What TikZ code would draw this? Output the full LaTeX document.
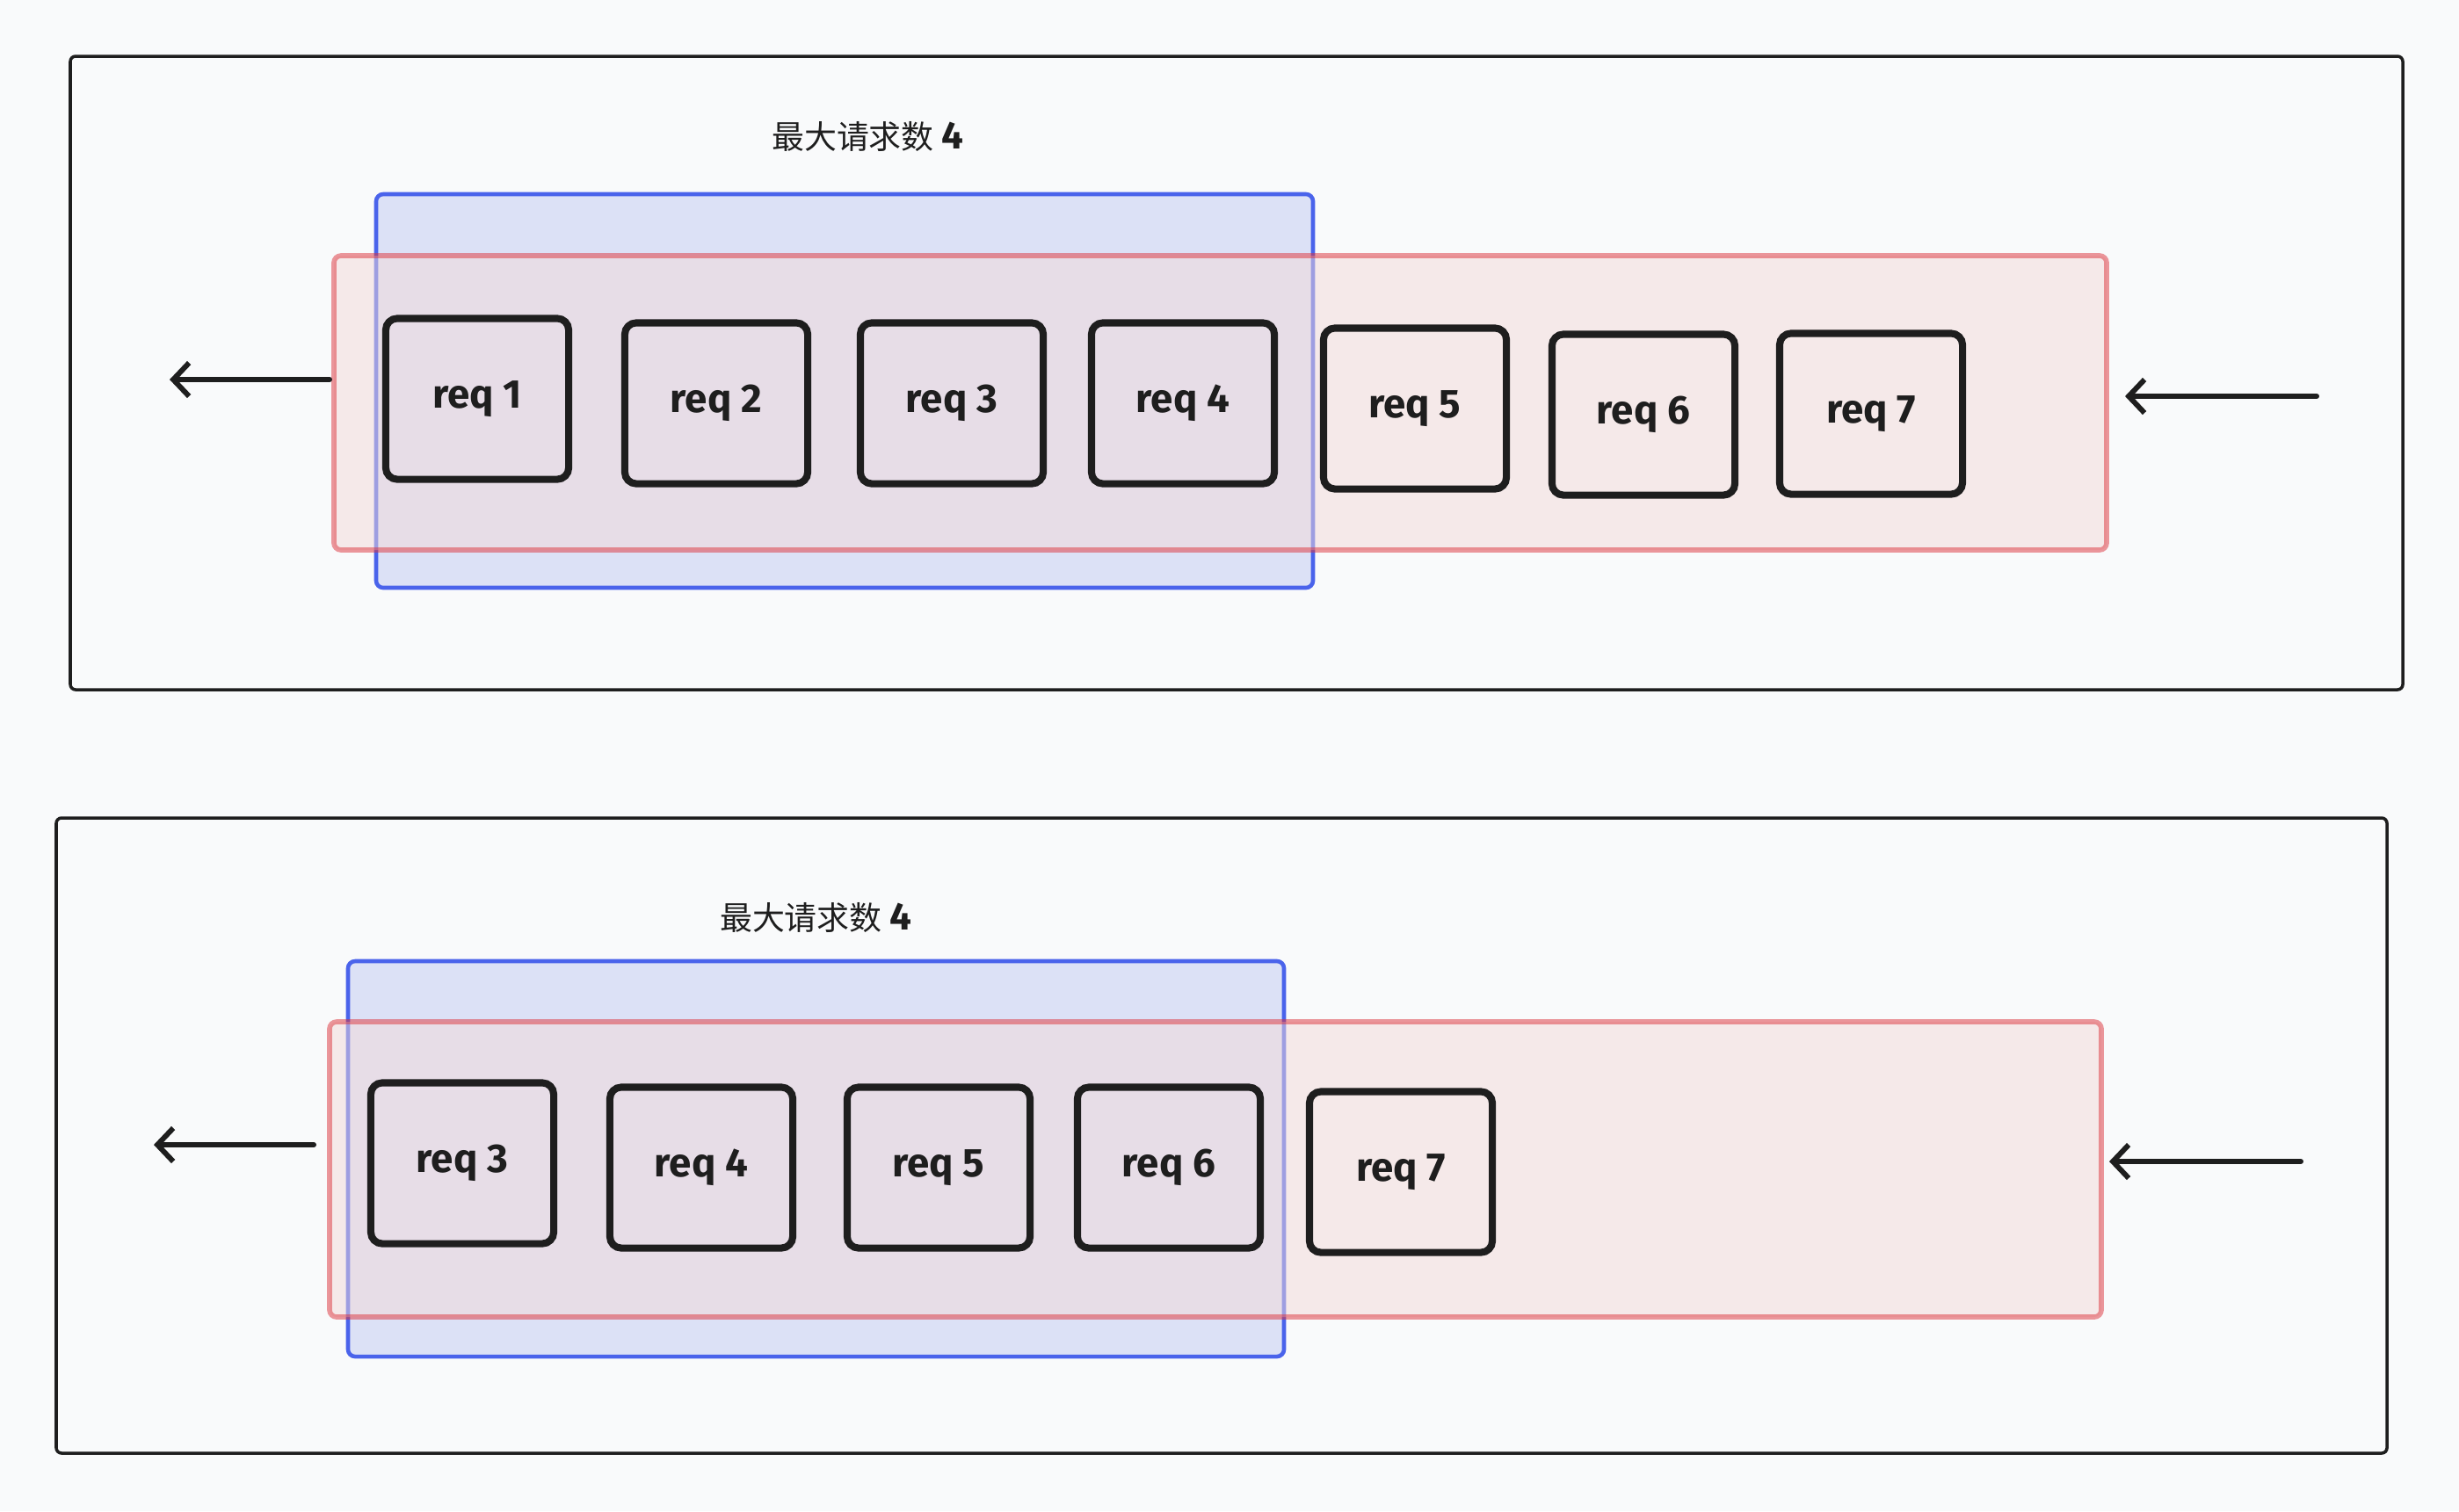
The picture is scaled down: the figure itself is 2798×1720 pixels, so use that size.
\documentclass[tikz,border=0pt]{standalone}
\usepackage{fontspec}
\setmainfont{Fira Sans}
\newfontfamily\cjkfont{Noto Sans CJK SC}
\usetikzlibrary{arrows.meta}
\definecolor{pagebg}{HTML}{F9FAFB}
\definecolor{ink}{HTML}{1E1E1E}
\definecolor{winblue}{HTML}{4A63EB}
\definecolor{winbluefill}{HTML}{DCE1F6}
\definecolor{qred}{HTML}{DD323B}
\definecolor{qredfill}{HTML}{F3DAD9}
\def\maxtext{最大请求数 {\rmfamily\bfseries\fontsize{12.5}{12}\selectfont 4}}
\tikzset{
  reqbox/.style={draw=ink, line width=2.3pt, rounded corners=0.13cm,
    minimum width=2.08cm, minimum height=1.83cm, text=ink,
    font=\fontsize{13}{15}\selectfont\bfseries},
  window/.style={draw=winblue, fill=winbluefill, line width=1.3pt, rounded corners=0.08cm},
  queue/.style={draw=qred, fill=qredfill, opacity=0.5, line width=1.6pt, rounded corners=0.08cm},
  panel/.style={draw=ink, line width=1pt, rounded corners=0.06cm},
  maxlabel/.style={text=ink, font=\cjkfont\fontsize{10.5}{12}\selectfont},
  flow/.style={draw=ink, line width=1.7pt, line cap=round,
    -{Straight Barb[length=0.18cm,width=0.38cm,line width=1.7pt]}}
}

\begin{document}
\begin{tikzpicture}[x=0.01cm, y=-0.01cm]
  \fill [pagebg] (0,0) rectangle (2798,1720);

  % upper panel
  \draw [panel] (80,64) rectangle (2734,785);
  \node [maxlabel] (capTop) at (987,155) {\maxtext};
  \draw [window] (428,221) rectangle (1494,669);
  \draw [queue] (380,291) rectangle (2397,626);
  \foreach \n/\x/\y in {1/543/454, 2/815/459, 3/1083/459, 4/1346/459,
                        5/1610/465, 6/1870/472, 7/2129/471}
    \node [reqbox] (top\n) at (\x,\y) {req \n};

  \coordinate (topOutA) at (375,432);
  \coordinate (topOutB) at (193,432);
  \coordinate (topInA) at (2636,451);
  \coordinate (topInB) at (2418,451);
  \draw [flow] (topOutA) -- (topOutB);
  \draw [flow] (topInA) -- (topInB);

  % lower panel
  \draw [panel] (64,931) rectangle (2716,1654);
  \node [maxlabel] (capBot) at (928,1044) {\maxtext};
  \draw [window] (396,1094) rectangle (1461,1544);
  \draw [queue] (375,1163) rectangle (2391,1499);
  \foreach \n/\x/\y in {3/526/1324, 4/798/1329, 5/1068/1329,
                        6/1330/1329, 7/1594/1334}
    \node [reqbox] (bot\n) at (\x,\y) {req \n};

  \coordinate (botOutA) at (357,1303);
  \coordinate (botOutB) at (175,1303);
  \coordinate (botInA) at (2618,1322);
  \coordinate (botInB) at (2400,1322);
  \draw [flow] (botOutA) -- (botOutB);
  \draw [flow] (botInA) -- (botInB);
\end{tikzpicture}
\end{document}
